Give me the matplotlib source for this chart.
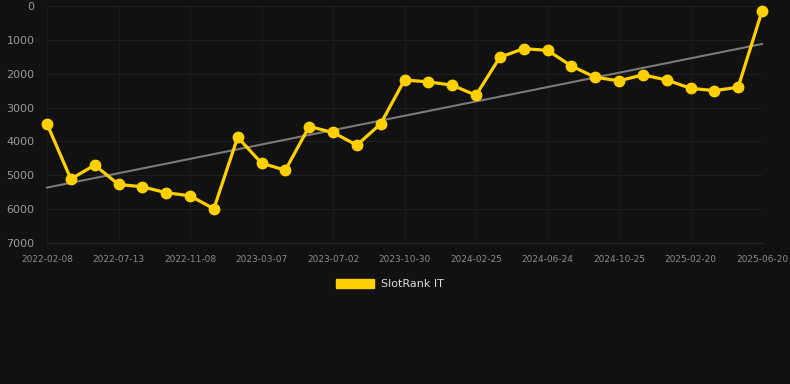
import numpy as np
import matplotlib
matplotlib.use("Agg")
import matplotlib.pyplot as plt
from matplotlib.patches import Patch

series_name = "SlotRank IT"
tick_labels = ["2022-02-08", "2022-07-13", "2022-11-08", "2023-03-07", "2023-07-02",
               "2023-10-30", "2024-02-25", "2024-06-24", "2024-10-25", "2025-02-20",
               "2025-06-20"]
ranks = [3480, 5110, 4700, 5270, 5340, 5515, 5605, 5990, 3875, 4640,
         4850, 3560, 3735, 4110, 3480, 2185, 2240, 2340, 2635, 1515,
         1260, 1310, 1770, 2105, 2210, 2035, 2185, 2430, 2500, 2400, 150]
tick_step = 3

bg = "#111111"
fig = plt.figure(figsize=(7.9, 3.84), dpi=100, facecolor=bg)
ax = fig.add_axes([47/790, 1-243/384, (762-47)/790, (243-6)/384])
ax.set_facecolor(bg)

x = np.arange(len(ranks))
coef = np.polyfit(x, ranks, 1)
ax.plot(x, np.polyval(coef, x), color="#7a7a7a", lw=1.5, zorder=2, clip_on=False)
ax.plot(x, ranks, color="#FFD000", lw=2.3, marker="o", ms=7.5, zorder=3,
        clip_on=False, label=series_name)

ax.set_xlim(0, len(ranks)-1)
ax.set_ylim(7000, 0)
ax.set_yticks(range(0, 7001, 1000))
ax.set_xticks(x[::tick_step])
ax.set_xticklabels(tick_labels)
ax.tick_params(axis="y", length=0, pad=9, labelsize=8, labelcolor="#9a9a9a")
ax.tick_params(axis="x", length=0, pad=9, labelsize=6.5, labelcolor="#8a8a8a")
ax.grid(True, axis="y", color="#1f1f1f", lw=0.8)
ax.grid(True, axis="x", color="#1b1b1b", lw=0.8)
for s in ax.spines.values():
    s.set_visible(False)
ax.spines["bottom"].set_visible(True)
ax.spines["bottom"].set_color("#2a2a2a")
ax.spines["bottom"].set_linewidth(0.8)

fig.legend(handles=[Patch(facecolor="#FFD000", edgecolor="#FFD000")],
           labels=[series_name], loc="center", bbox_to_anchor=(390/790, 1-284/384),
           frameon=False, fontsize=8, handlelength=3.4, handleheight=0.9,
           labelcolor="#dddddd", handletextpad=0.6)

fig.savefig("out.png", dpi=100, facecolor=bg)
